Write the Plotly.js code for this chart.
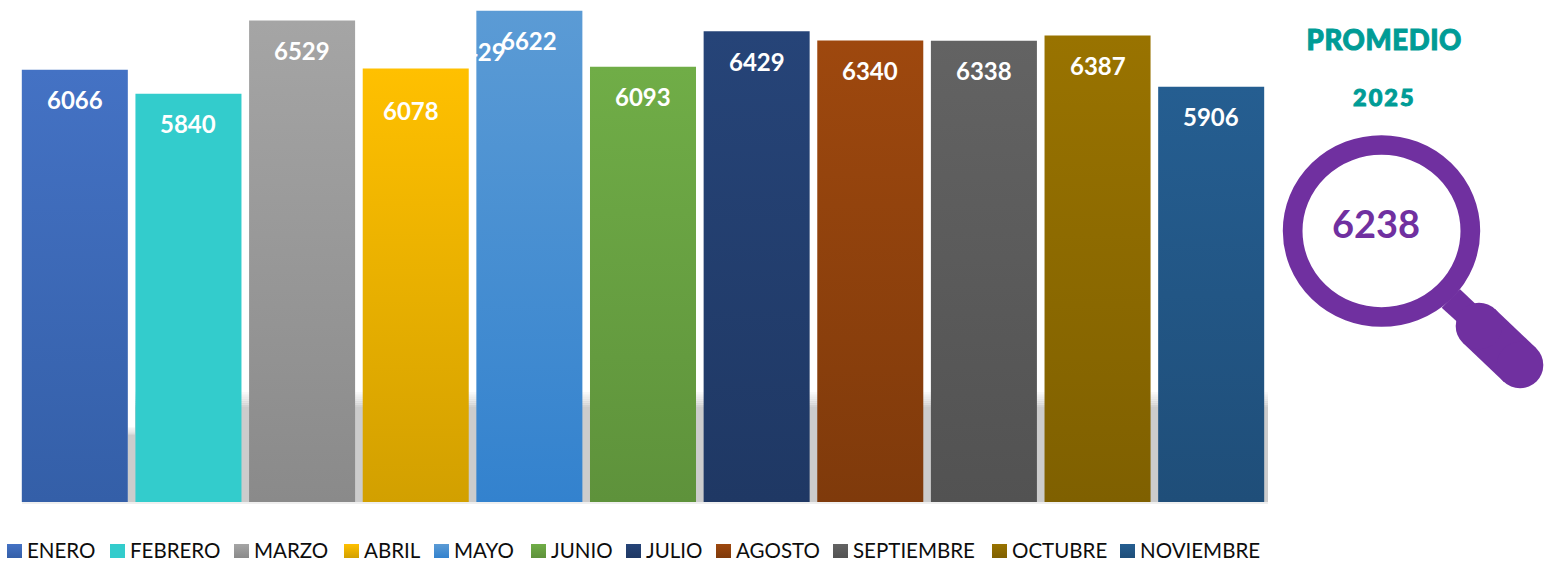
<!DOCTYPE html>
<html>
<head>
<meta charset="utf-8">
<script src="https://cdn.plot.ly/plotly-3.0.1.min.js"></script>
<style>html,body{margin:0;padding:0;background:#fff;overflow:hidden}</style>
</head>
<body>
<div id="chart" style="width:1551px;height:562px"></div>
<script>
const months = ["ENERO","FEBRERO","MARZO","ABRIL","MAYO","JUNIO","JULIO","AGOSTO","SEPTIEMBRE","OCTUBRE","NOVIEMBRE"];
const values = [6066,5840,6529,6078,6622,6093,6429,6340,6338,6387,5906];
const topColors = ["#4472C4","#33CCCC","#A5A5A5","#FFC000","#5B9BD5","#70AD47","#264478","#9E480E","#636363","#997300","#255E91"];
const bottomColors = ["#345FA8","#33CCCC","#8A8A8A","#D2A000","#3382CE","#5E923B","#1F3864","#7F3A0B","#525252","#7F6000","#1F4E79"];
const averageLabel = "6238";
const ghostLabel = "6429";
const legendSwatchX = [7,110,234,344,434,531,626,716,833,992,1120];
const axisBase = 2000;

const W = 1551, H = 562, L = 18, R = 283, T = 0, B = 60;
const px = x => (x - L) / (W - L - R);
const py = y => 1 - (y - T) / (H - T - B);
const FONT = "Lato, Carlito, sans-serif";
const PURPLE = "#7030A0", TEAL = "#009C96";
const LABEL_SIZE = 24;

const traces = months.map((m, i) => ({
  type: "bar", name: m, x: [m], y: [values[i]], width: 0.933,
  marker: {color: topColors[i], line: {width: 0}},
  hoverinfo: "x+y"
}));

const annotations = months.map((m, i) => ({
  x: m, y: values[i], xref: "x", yref: "y", text: String(values[i]), showarrow: false,
  yshift: m === "ABRIL" ? -42 : -30, xshift: m === "ABRIL" ? -5 : 0, yanchor: "middle", xanchor: "center",
  font: {family: FONT, size: LABEL_SIZE, color: "#FFFFFF", weight: 700}
}));
annotations.unshift({x: px(478), y: py(51), xref: "paper", yref: "paper", text: ghostLabel, showarrow: false,
  xanchor: "center", yanchor: "middle", font: {family: FONT, size: LABEL_SIZE, color: "#FFFFFF", weight: 700}});
annotations.push(
  {x: px(1384), y: py(39), xref: "paper", yref: "paper", text: "PROMEDIO", showarrow: false,
   xanchor: "center", yanchor: "middle", font: {family: FONT, size: 27.5, color: TEAL, weight: 900}},
  {x: px(1384), y: py(97), xref: "paper", yref: "paper", text: "2025", showarrow: false,
   xanchor: "center", yanchor: "middle", font: {family: FONT, size: 23.5, color: TEAL, weight: 900}},
  {x: px(1376), y: py(223), xref: "paper", yref: "paper", text: averageLabel, showarrow: false,
   xanchor: "center", yanchor: "middle", font: {family: FONT, size: 38, color: PURPLE, weight: 700}}
);

const shapes = [];
function rect(x0, y0, x1, y1, color) {
  shapes.push({type: "rect", xref: "paper", yref: "paper", layer: "below",
    x0: px(x0), x1: px(x1), y0: py(y0), y1: py(y1), fillcolor: color, line: {width: 0}});
}
function fade(x0, x1, start, end, bottom) {
  const n = 8;
  for (let k = 0; k < n; k++) {
    const v = Math.round(255 - (255 - 204) * (k + 1) / n);
    rect(x0, start + (end - start) * k / n, x1, start + (end - start) * (k + 1) / n, `rgb(${v},${v},${v})`);
  }
  rect(x0, end, x1, bottom, "#CCCCCC");
}
// soft shadow behind the lower part of the bars
fade(128, 135, 427, 436, 502);
fade(135, 1268, 392, 409, 502);
rect(22, 502, 1268, 504, "#EFEFEF");

// magnifier
function ellipse(cx, cy, rx, ry, fill, line) {
  shapes.push({type: "circle", xref: "paper", yref: "paper", layer: "above",
    x0: px(cx - rx), x1: px(cx + rx), y0: py(cy - ry), y1: py(cy + ry),
    fillcolor: fill, line: line ? {color: line.color, width: line.width} : {width: 0}});
}
function poly(pts) {
  const d = pts.map((p, i) => (i ? "L" : "M") + px(p[0]).toFixed(5) + "," + py(p[1]).toFixed(5)).join(" ") + " Z";
  shapes.push({type: "path", xref: "paper", yref: "paper", layer: "above", path: d, fillcolor: PURPLE, line: {width: 0}});
}
ellipse(1381.5, 231, 88.85, 86, "rgba(255,255,255,0)", {color: PURPLE, width: 19.7});
poly([[1460, 289.3], [1441.7, 307.7], [1464, 328], [1482, 310]]);
poly([[1495, 309], [1536, 348], [1504, 382], [1463, 343]]);
ellipse(1479, 326, 23.3, 23.3, PURPLE);
ellipse(1520, 365, 23.3, 23.3, PURPLE);

const layout = {
  width: W, height: H, margin: {l: L, r: R, t: T, b: B, pad: 0},
  paper_bgcolor: "rgba(0,0,0,0)", plot_bgcolor: "rgba(0,0,0,0)",
  barmode: "overlay", showlegend: true,
  xaxis: {type: "category", visible: false, categoryorder: "array", categoryarray: months, range: [-0.5, 10.5], fixedrange: true},
  yaxis: {visible: false, range: [axisBase, 6722], fixedrange: true},
  legend: {orientation: "h", x: 0, y: 0, xanchor: "left", yanchor: "bottom",
    font: {family: FONT, size: 20.5, color: "#0D0D0D"}, bgcolor: "rgba(0,0,0,0)"},
  annotations, shapes
};

Plotly.newPlot("chart", traces, layout, {displayModeBar: false, responsive: false}).then(gd => {
  const svg = gd.querySelector(".main-svg");
  const NS = "http://www.w3.org/2000/svg";
  const defs = svg.querySelector("defs") || svg.insertBefore(document.createElementNS(NS, "defs"), svg.firstChild);
  const ya = gd._fullLayout.yaxis;
  function addGradient(id, i, user) {
    const g = document.createElementNS(NS, "linearGradient");
    g.setAttribute("id", id);
    g.setAttribute("x1", 0); g.setAttribute("x2", 0);
    if (user) {
      g.setAttribute("gradientUnits", "userSpaceOnUse");
      g.setAttribute("y1", ya.l2p(values[i])); g.setAttribute("y2", ya.l2p(axisBase));
    } else {
      g.setAttribute("y1", 0); g.setAttribute("y2", 1);
    }
    [[0, topColors[i]], [1, bottomColors[i]]].forEach(([o, c]) => {
      const s = document.createElementNS(NS, "stop");
      s.setAttribute("offset", o); s.setAttribute("stop-color", c); g.appendChild(s);
    });
    defs.appendChild(g);
  }
  months.forEach((m, i) => { addGradient("grad" + i, i, true); addGradient("swatch" + i, i, false); });
  gd.querySelectorAll(".barlayer .trace").forEach((t, i) => {
    t.querySelectorAll("path").forEach(p => { p.style.fill = `url(#grad${i})`; });
  });
  // legend placement: tight swatch + text runs along the bottom edge
  const leg = gd.querySelector(".legend");
  leg.setAttribute("transform", "translate(0,0)");
  const box = leg.querySelector(".scrollbox");
  box.setAttribute("transform", "translate(0,0)");
  box.removeAttribute("clip-path");
  box.style.clipPath = "none";
  leg.removeAttribute("clip-path");
  const bg = leg.querySelector(".bg"); if (bg) bg.style.display = "none";
  gd.querySelectorAll(".legend .traces").forEach((t, i) => {
    t.setAttribute("transform", `translate(${legendSwatchX[i]},551)`);
    const sw = t.querySelector(".legendpoints path");
    if (sw) {
      sw.setAttribute("d", "M0,-7H15V7H0Z");
      sw.setAttribute("transform", "translate(0,0)");
      sw.style.fill = `url(#swatch${i})`;
      sw.style.stroke = "none";
    }
    const tx = t.querySelector(".legendtext");
    tx.setAttribute("x", 20);
    tx.setAttribute("y", 7);
  });
  gd.querySelectorAll(".annotation-text").forEach(e => {
    if (e.textContent === "2025") { e.style.letterSpacing = "2px"; }
    if (e.textContent === "PROMEDIO") { e.style.letterSpacing = "0.6px"; }
    if (e.textContent === "2025" || e.textContent === "PROMEDIO") {
      e.style.stroke = TEAL; e.style.strokeWidth = "1px";
    }
  });
});
</script>
</body>
</html>
